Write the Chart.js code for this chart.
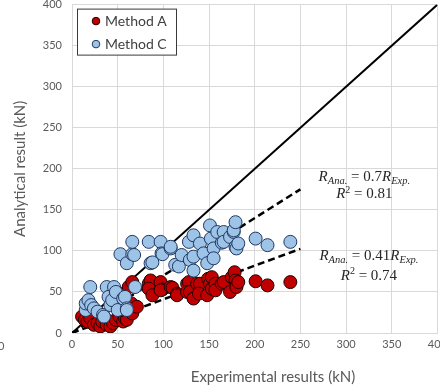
<!DOCTYPE html>
<html>
<head>
<meta charset="utf-8">
<script src="https://cdn.jsdelivr.net/npm/chart.js@4"></script>
<style>
html, body { margin: 0; padding: 0; background: #fff; overflow: hidden; }
#myChart { display: block; margin-top: -12px; }
</style>
</head>
<body>
<canvas id="myChart" width="452" height="404"></canvas>
<script>
// Method A (red)
let methodA_x = [11,14,17,20,24,28,31,33,36,38,42,45,48,52,56,58,60,66,65,71,53,53,62,66,
    84,86,84,88,97,99,97,108,110,115,115,126,128,126,129,133,137,140,139,148,149,151,153,153,157,157,164,166,173,175,178,179,180,180,182,201,214,239];
let methodA_y = [20,16,14,18,10,12,8,14,18,10,8,12,16,20,14,18,16,24,36,32,28,44,56,62,
    60,64,54,46,62,53,52,56,55,48,46,60,62,50,50,42,60,60,48,46,66,60,68,54,60,52,60,62,50,68,74,64,58,56,62,63,58,62];

// Method C (blue)
let methodC_x = [15,15,18,20,21,24,28,34,35,38,40,42,44,46,48,50,56,58,60,60,69,
    53,60,66,66,68,84,86,88,97,98,99,108,108,113,117,120,128,129,133,133,133,140,144,148,151,152,155,155,159,164,166,166,173,177,177,179,179,180,182,201,214,239];
let methodC_y = [28,36,40,56,34,30,26,22,20,56,44,34,40,56,50,28,42,44,30,28,56,
    96,85,96,111,95,111,85,86,111,97,96,103,105,83,81,95,111,89,119,93,76,109,97,85,131,115,103,91,123,110,123,111,117,123,125,135,105,103,109,115,107,111];

// 1:1 line and the two fits
let equal_x = [0, 400];
let equal_y = [0, 400];
let fitC_x = [0, 250];
let fitC_y = [0, 175];
let fitA_x = [0, 250];
let fitA_y = [0, 102.5];

let xTicks = [0, 50, 100, 150, 200, 250, 300, 350, 400];
let yTicks = [0, 50, 100, 150, 200, 250, 300, 350, 400];

function pairs(xs, ys) {
    let out = [];
    for (let i = 0; i < xs.length; i++) {
        out.push({ x: xs[i], y: ys[i] });
    }
    return out;
}

const tickFont = { family: 'Lato', size: 11 };
const grey = '#595959';

// legend box, axis titles and the equations
const extras = {
    id: 'extras',
    afterDraw(chart) {
        const ctx = chart.ctx;
        const ca = chart.chartArea;
        const xs = chart.scales.x;
        const ys = chart.scales.y;
        ctx.save();

        // legend
        let lx = ca.left + 5.5, ly = ca.top + 4.5;
        ctx.fillStyle = '#fff';
        ctx.fillRect(lx, ly, 99, 46);
        ctx.strokeStyle = '#3a3a3a';
        ctx.lineWidth = 1;
        ctx.strokeRect(lx, ly, 99, 46);
        let items = [['Method A', '#c00000', '#200000'], ['Method C', '#9dc3e6', '#1f3864']];
        ctx.font = '14px Lato';
        ctx.textBaseline = 'middle';
        ctx.textAlign = 'left';
        items.forEach((it, i) => {
            let yy = ly + 12 + i * 23;
            ctx.beginPath();
            ctx.arc(lx + 18.5, yy, 3.8, 0, Math.PI * 2);
            ctx.fillStyle = it[1];
            ctx.fill();
            ctx.strokeStyle = it[2];
            ctx.stroke();
            ctx.fillStyle = '#404040';
            ctx.fillText(it[0], lx + 27.5, yy);
        });

        // axis titles
        ctx.fillStyle = grey;
        ctx.font = '15px Lato';
        ctx.textAlign = 'center';
        ctx.fillText('Experimental results (kN)', ca.left + 201, ca.bottom + 44);
        ctx.save();
        ctx.translate(20, (ca.top + ca.bottom) / 2);
        ctx.rotate(-Math.PI / 2);
        ctx.fillText('Analytical result (kN)', 0, 0);
        ctx.restore();

        // cut label from the neighbouring chart
        ctx.font = '11px Lato';
        ctx.textAlign = 'right';
        ctx.fillText('400', 4.5, ca.bottom + 13);

        // equations
        const drawMath = (parts, cx, cy) => {
            let w = 0;
            parts.forEach(p => {
                ctx.font = (p.it ? 'italic ' : '') + p.s + 'px "Liberation Serif"';
                p.w = ctx.measureText(p.t).width;
                w += p.w;
            });
            let x = cx - w / 2;
            ctx.textAlign = 'left';
            ctx.textBaseline = 'alphabetic';
            ctx.fillStyle = '#262626';
            parts.forEach(p => {
                ctx.font = (p.it ? 'italic ' : '') + p.s + 'px "Liberation Serif"';
                ctx.fillText(p.t, x, cy + 5 + (p.dy || 0));
                x += p.w;
            });
        };
        const eq = (k) => [
            { t: 'R', it: true, s: 15 },
            { t: 'Ana.', it: true, s: 10.5, dy: 3 },
            { t: ' = ' + k, s: 15 },
            { t: 'R', it: true, s: 15 },
            { t: 'Exp.', it: true, s: 10.5, dy: 3 }
        ];
        const r2 = (v) => [
            { t: 'R', it: true, s: 15 },
            { t: '2', s: 10, dy: -5.5 },
            { t: ' = ' + v, s: 15 }
        ];
        drawMath(eq('0.7'), xs.getPixelForValue(320), ys.getPixelForValue(191));
        drawMath(r2('0.81'), xs.getPixelForValue(320), ys.getPixelForValue(170));
        drawMath(eq('0.41'), xs.getPixelForValue(325), ys.getPixelForValue(95));
        drawMath(r2('0.74'), xs.getPixelForValue(325), ys.getPixelForValue(71));

        ctx.restore();
    }
};

var ctx = document.getElementById('myChart').getContext('2d');
var chart = new Chart(ctx, {
    type: 'scatter',
    data: {
        datasets: [{
            label: 'Method A',
            data: pairs(methodA_x, methodA_y),
            backgroundColor: '#c00000',
            borderColor: '#200000',
            borderWidth: 1,
            pointRadius: 6.5,
            order: 2
        },
        {
            label: 'Method C',
            data: pairs(methodC_x, methodC_y),
            backgroundColor: '#9dc3e6',
            borderColor: '#1f3864',
            borderWidth: 1,
            pointRadius: 6.5,
            order: 1
        },
        {
            label: 'equal',
            data: pairs(equal_x, equal_y),
            showLine: true,
            borderColor: '#000',
            borderWidth: 2,
            pointRadius: 0,
            order: 3
        },
        {
            label: 'fit C',
            data: pairs(fitC_x, fitC_y),
            showLine: true,
            borderColor: '#000',
            borderWidth: 2.5,
            borderDash: [7, 4],
            pointRadius: 0,
            order: 3
        },
        {
            label: 'fit A',
            data: pairs(fitA_x, fitA_y),
            showLine: true,
            borderColor: '#000',
            borderWidth: 2.5,
            borderDash: [7, 4],
            pointRadius: 0,
            order: 3
        }]
    },
    options: {
        responsive: false,
        animation: false,
        events: [],
        layout: { padding: { top: 0, right: 0, left: 0, bottom: 0 } },
        plugins: {
            legend: { display: false },
            tooltip: { enabled: false }
        },
        scales: {
            x: {
                type: 'linear',
                min: 0,
                max: 400,
                afterBuildTicks: (s) => { s.ticks = xTicks.map(v => ({ value: v })); },
                afterFit: (s) => { s.height = 59; },
                ticks: { color: grey, font: tickFont, padding: 5 },
                grid: { color: '#d9d9d9', drawTicks: false },
                border: { color: '#d9d9d9' }
            },
            y: {
                type: 'linear',
                min: 0,
                max: 400,
                afterBuildTicks: (s) => { s.ticks = yTicks.map(v => ({ value: v })); },
                afterFit: (s) => { s.width = 72; },
                ticks: { color: grey, font: tickFont, padding: 10 },
                grid: { color: '#d9d9d9', drawTicks: false },
                border: { color: '#d9d9d9' }
            }
        }
    },
    plugins: [extras]
});
</script>
</body>
</html>
